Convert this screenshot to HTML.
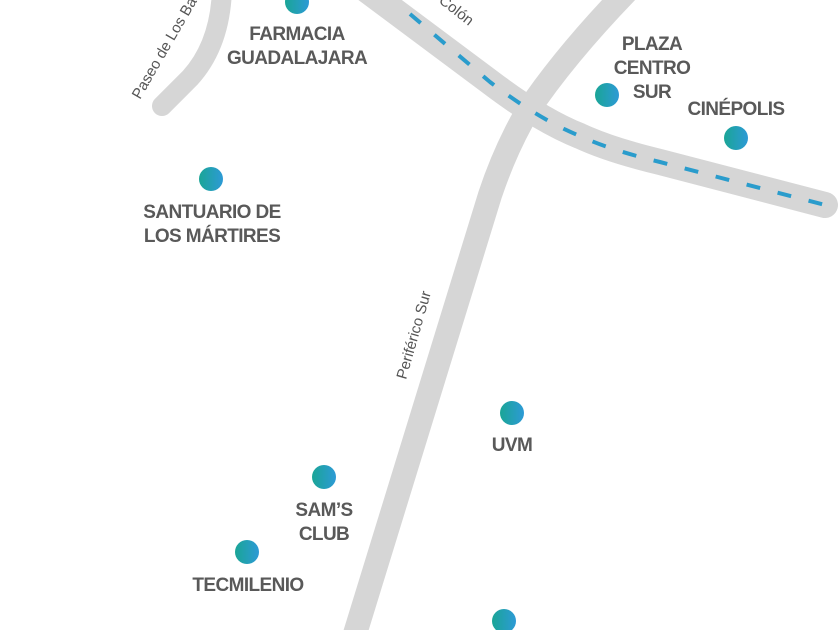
<!DOCTYPE html>
<html><head><meta charset="utf-8"><style>
html,body{margin:0;padding:0;background:#fff;}
body{width:840px;height:630px;overflow:hidden;position:relative;}
svg{position:absolute;left:0;top:0;}
.l{font-family:"Liberation Sans Narrow","Liberation Sans",sans-serif;font-size:19px;fill:#595959;font-weight:bold;text-anchor:middle;letter-spacing:-0.6px;}
.r{font-family:"Liberation Sans Narrow","Liberation Sans",sans-serif;font-size:15px;fill:#555;}
</style></head><body>
<svg width="840" height="630" viewBox="0 0 840 630">
<defs><linearGradient id="g" x1="0" x2="1"><stop offset="0" stop-color="#1aa596"/><stop offset="1" stop-color="#2d9ad6"/></linearGradient></defs>
<g fill="none" stroke="#d6d6d6" stroke-linecap="round">
<path d="M222,-10 Q220,45 190,78 L162,106" stroke-width="20"/>
<path d="M630,-12 Q565,55 527,112 Q505,150 490,195 L350,650" stroke-width="24"/>
<path d="M360,-15 L490,82 Q540,120 580,136 Q610,150 660,162 L825,205" stroke-width="26"/>
</g>
<path d="M410,14 L490,82 Q540,120 580,136 Q610,150 660,162 L825,205" fill="none" stroke="#2a9ccc" stroke-width="4" stroke-dasharray="14,18"/>
<g fill="url(#g)">
<circle cx="297" cy="2" r="12"/><circle cx="607" cy="95" r="12"/><circle cx="736" cy="138" r="12"/>
<circle cx="211" cy="179" r="12"/><circle cx="512" cy="413" r="12"/><circle cx="324" cy="477" r="12"/>
<circle cx="247" cy="552" r="12"/><circle cx="504" cy="621" r="12"/>
</g>
<text class="l" x="297" y="40">FARMACIA</text><text class="l" x="297" y="64">GUADALAJARA</text>
<text class="l" x="652" y="50">PLAZA</text><text class="l" x="652" y="74">CENTRO</text><text class="l" x="652" y="98">SUR</text>
<text class="l" x="736" y="115">CINÉPOLIS</text>
<text class="l" x="212" y="218">SANTUARIO DE</text><text class="l" x="212" y="242">LOS MÁRTIRES</text>
<text class="l" x="512" y="451">UVM</text>
<text class="l" x="324" y="516">SAM’S</text><text class="l" x="324" y="540">CLUB</text>
<text class="l" x="248" y="591">TECMILENIO</text>
<text class="r" transform="translate(140,100) rotate(-60)">Paseo de Los Ba</text>
<text class="r" transform="translate(438,2) rotate(38)">Colón</text>
<text class="r" transform="translate(406,380) rotate(-74)">Periférico Sur</text>
</svg>
</body></html>
